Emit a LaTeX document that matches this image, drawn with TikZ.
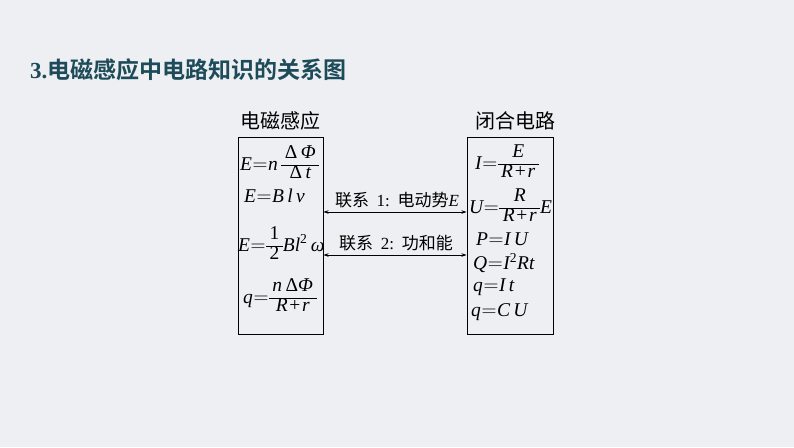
\documentclass[tikz,border=0pt]{standalone}
\usepackage{amsmath}
\usepackage{array}
\usepackage{fontspec}
\setmainfont{Liberation Serif}
\newfontfamily\cjk{Noto Sans CJK SC}
\newfontfamily\cjkb{Noto Sans CJK SC Bold}
\usetikzlibrary{arrows.meta}
\definecolor{bgc}{RGB}{238,239,242}
\definecolor{titlec}{RGB}{29,75,90}
\tikzset{
  box/.style={draw=black, line width=1pt, minimum width=#1, minimum height=197pt, inner sep=0pt},
  boxlabel/.style={font=\fontsize{20}{22}\selectfont\cjk, inner sep=0pt},
  fml/.style={anchor=west, inner sep=0pt, font=\fontsize{19.5}{21}\selectfont},
  link/.style={line width=0.7pt, {Stealth[length=5pt,width=3.5pt]}-{Stealth[length=5pt,width=3.5pt]}},
  linklabel/.style={inner sep=0pt, anchor=base, font=\fontsize{17}{19}\selectfont}
}
\newcommand{\tq}{\mathrel{=}}
\newcommand{\pl}{\mathbin{\text{+}}}
\newcommand{\mi}[1]{\text{\itshape #1}}
\newcommand{\up}[1]{\text{\upshape #1}}
\newcommand{\cf}[2]{\mathord{\renewcommand{\arraystretch}{0.9}\setlength{\arrayrulewidth}{0.8pt}%
  \begin{array}{@{\,}c@{\,}}#1\\\hline #2\end{array}}}
\begin{document}
\begin{tikzpicture}[x=1pt,y=-1pt]
\fill[bgc] (0,0) rectangle (794,447);
\useasboundingbox (0,0) rectangle (794,447);
% title
\node[anchor=west, inner sep=0pt, text=titlec] (title) at (30,70)
  {\fontsize{23}{25}\selectfont\textbf{3.}\cjkb 电磁感应中电路知识的关系图};
% boxes
\node[box=85pt] (lbox) at (280.5,235.5) {};
\node[box=86pt] (rbox) at (510,235.5) {};
\node[boxlabel] (llab) at (280.5,121) {电磁感应};
\node[boxlabel] (rlab) at (515,121) {闭合电路};
% formulas
\begingroup
\thickmuskip=0.5mu plus 1mu
\medmuskip=1.5mu plus 1mu
\node[fml] (l1) at (240,165) {$\mi{E}\tq \mi{n}\,\cf{\up{Δ}\,\mi{Φ}}{\up{Δ}\,\mi{t}}$};
\node[fml] (l2) at (244,196) {$\mi{E}\tq \mi{B\,l\,v}$};
\node[fml] (l3) at (238,246) {$\mi{E}\tq \cf{\up{1}}{\up{2}}\mi{Bl}^{\up{2}}\,\mi{ω}$};
\node[fml] (l4) at (243,298) {$\mi{q}\tq \cf{\mi{n}\,\up{Δ}\mi{Φ}}{\mi{R}\pl\mi{r}}$};
\node[fml] (r1) at (475,164) {$\mi{I}\tq \cf{\mi{E}}{\mi{R}\pl\mi{r}}$};
\node[fml] (r2) at (469,208) {$\mi{U}\tq \cf{\mi{R}}{\mi{R}\pl\mi{r}}\mi{E}$};
\node[fml] (r3) at (476,239) {$\mi{P}\tq \mi{I\,U}$};
\node[fml] (r4) at (473,263) {$\mi{Q}\tq \mi{I}^{\up{2}}\mi{Rt}$};
\node[fml] (r5) at (473,287) {$\mi{q}\tq \mi{I\,t}$};
\node[fml] (r6) at (471,312) {$\mi{q}\tq \mi{C\,U}$};
\endgroup
% links
\coordinate (a1) at (395,212);
\coordinate (a2) at (395,255);
\draw[link] (lbox.east |- a1) -- (rbox.west |- a1);
\draw[link] (lbox.east |- a2) -- (rbox.west |- a2);
\node[linklabel] (t1) at (397,206) {{\cjk 联系}\hspace{0.45em}1:\hspace{0.45em}{\cjk 电动势}\textit{E}};
\node[linklabel] (t2) at (396,249) {{\cjk 联系}\hspace{0.45em}2:\hspace{0.45em}{\cjk 功和能}};
\end{tikzpicture}
\end{document}
